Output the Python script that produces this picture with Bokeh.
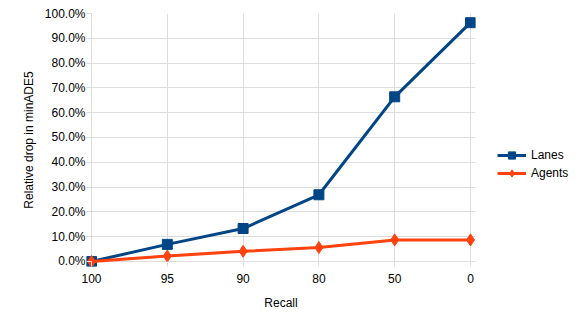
from bokeh.plotting import figure
from bokeh.layouts import row
from bokeh.models import NumeralTickFormatter, FixedTicker, Legend, LegendItem, Range1d
from bokeh.embed import file_html
from bokeh.resources import INLINE

categories = ["100", "95", "90", "80", "50", "0"]
lanes = [0.0, 0.069, 0.133, 0.269, 0.664, 0.963]
agents = [0.0, 0.022, 0.041, 0.056, 0.087, 0.087]
series_names = ["Lanes", "Agents"]

xs = list(range(len(categories)))

FONT = "Liberation Sans"
GRID = "#dddddd"
BLUE = "#004586"
ORANGE = "#ff420e"

# small padding so edge markers are not clipped; gridlines mark the plot box
XPAD = 0.066
YPAD = 0.0202

p = figure(width=481, height=325, output_backend="svg", toolbar_location=None,
           x_range=Range1d(-XPAD, len(categories) - 1 + XPAD), y_range=Range1d(-YPAD, 1),
           min_border_left=86, min_border_right=6, min_border_top=13, min_border_bottom=59)
p.outline_line_color = None

p.line(xs, lanes, line_color=BLUE, line_width=3)
p.scatter(xs, lanes, marker="square", size=10, fill_color=BLUE, line_color=BLUE)
p.line(xs, agents, line_color=ORANGE, line_width=3)
p.scatter(xs, agents, marker="diamond", size=12, fill_color=ORANGE, line_color=ORANGE)

p.xaxis.ticker = FixedTicker(ticks=xs)
p.xaxis.major_label_overrides = {i: c for i, c in enumerate(categories)}
p.yaxis.ticker = FixedTicker(ticks=[i / 10 for i in range(11)])
p.yaxis.formatter = NumeralTickFormatter(format="0.0%")

for ax in (p.xaxis[0], p.yaxis[0]):
    ax.axis_line_color = None
    ax.major_tick_line_color = GRID
    ax.major_tick_out = 0
    ax.major_tick_in = 5
    ax.minor_tick_line_color = None
    ax.major_label_text_font = FONT
    ax.major_label_text_font_size = "12px"
    ax.major_label_text_color = "#000000"
    ax.axis_label_text_font = FONT
    ax.axis_label_text_font_size = "12px"
    ax.axis_label_text_font_style = "normal"
    ax.axis_label_text_color = "#000000"

p.xaxis.major_label_standoff = 7
p.yaxis.major_label_standoff = 1
p.xaxis.axis_label = "Recall"
p.yaxis.axis_label = "Relative drop in minADE5"
p.xaxis.axis_label_standoff = 10
p.yaxis.axis_label_standoff = 6

p.xgrid.grid_line_color = GRID
p.ygrid.grid_line_color = GRID

# legend panel (its renderers use the same series but lie outside its view)
lg = figure(width=98, height=325, output_backend="svg", toolbar_location=None,
            x_range=Range1d(-100, -90), y_range=Range1d(-100, -90),
            min_border_left=0, min_border_right=0, min_border_top=0, min_border_bottom=0)
lg.axis.visible = False
lg.grid.visible = False
lg.outline_line_color = None
l1 = lg.line(xs, lanes, line_color=BLUE, line_width=3)
m1 = lg.scatter(xs, lanes, marker="square", size=7, fill_color=BLUE, line_color=BLUE)
l2 = lg.line(xs, agents, line_color=ORANGE, line_width=3)
m2 = lg.scatter(xs, agents, marker="diamond", size=9, fill_color=ORANGE, line_color=ORANGE)

legend = Legend(items=[LegendItem(label=series_names[0], renderers=[l1, m1]),
                       LegendItem(label=series_names[1], renderers=[l2, m2])],
                location=(16, 84), padding=0, margin=0, spacing=0,
                glyph_width=29, glyph_height=18, label_height=18, label_standoff=5,
                label_text_font=FONT, label_text_font_size="12px", label_text_color="#000000",
                border_line_alpha=0, background_fill_alpha=0)
lg.add_layout(legend, "center")

layout = row(p, lg)
open("out.html", "w").write(file_html(layout, INLINE))
